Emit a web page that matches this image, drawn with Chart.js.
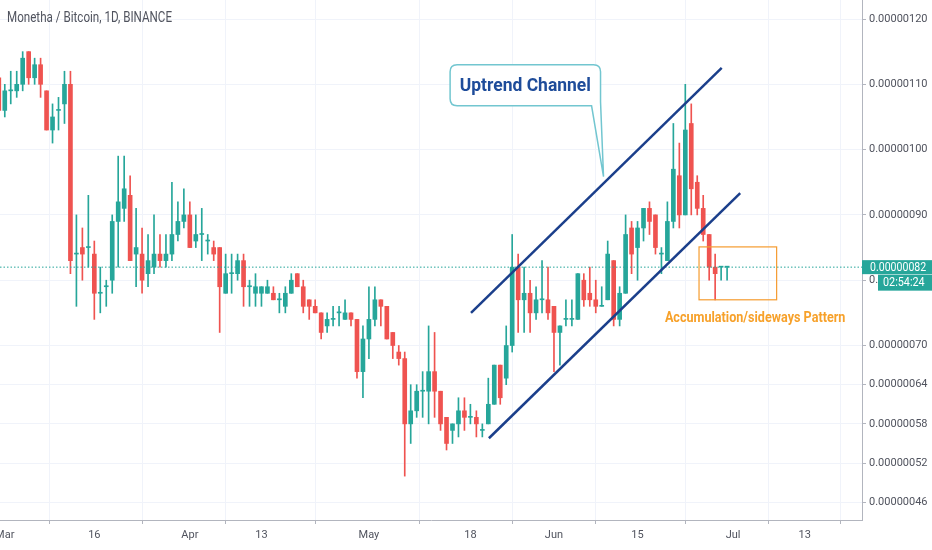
<!DOCTYPE html>
<html>
<head>
<meta charset="utf-8">
<script src="https://cdn.jsdelivr.net/npm/chart.js@4.4.1/dist/chart.umd.min.js"></script>
<style>
  html, body { margin: 0; padding: 0; background: #fff; }
  canvas { display: block; }
</style>
</head>
<body>
<canvas id="chart" width="932" height="550"></canvas>
<script>
// MCO/BTC daily candles, prices in satoshi (1e-8 BTC). Day 0 = Mar 1, first candle is Feb 29.
const firstDay = -1;
const opens = [
  111, 106, 109, 109, 110, 115, 111, 113, 109, 103, 106, 107, 110, 84, 85, 85, 84, 78, 79, 80, 89, 91,
  93, 84, 84, 81, 82, 84, 83, 84, 87, 89, 90, 86, 87, 86, 85, 85, 78, 81, 81, 83,
  79, 78, 78, 78, 78, 77, 76, 78, 81, 79, 77, 76, 75, 73, 74, 75, 74, 75, 74, 66,
  71, 74, 77, 76, 72, 69, 68, 58, 60, 63, 63, 66, 63, 59, 57, 58, 60, 59, 59, 57, 58,
  61, 67, 65, 70, 82, 77, 78, 75, 77, 77, 76, 72, 74, 74, 74, 80, 78, 77, 76, 77,
  83, 74, 78, 88, 85, 88, 91, 90, 84, 83, 89, 96, 90, 104, 95, 91, 87, 82, 82, 82
];
const highs = [
  111, 110, 112, 112, 115, 115, 114, 114, 109, 107, 108, 112, 112, 90, 88, 93, 86, 82, 80, 90, 99, 99,
  96, 91, 88, 87, 90, 87, 87, 95, 92, 94, 92, 90, 91, 87, 86, 85, 84, 84, 84, 84,
  80, 81, 79, 80, 79, 78, 79, 81, 81, 80, 77, 77, 75, 75, 76, 76, 77, 75, 74, 73,
  79, 79, 77, 76, 72, 70, 69, 64, 64, 66, 73, 72, 63, 59, 58, 62, 62, 61, 60, 58, 65,
  67, 67, 73, 87, 84, 82, 80, 79, 83, 82, 76, 73, 77, 77, 81, 81, 82, 80, 79, 86,
  83, 79, 90, 89, 89, 91, 92, 90, 85, 92, 104, 101, 110, 107, 96, 93, 87, 84, 82, 82
];
const lows = [
  106, 105, 107, 108, 109, 110, 110, 108, 103, 101, 103, 104, 81, 76, 80, 82, 74, 75, 76, 78, 82, 89,
  83, 79, 78, 79, 81, 82, 82, 83, 86, 88, 85, 85, 83, 84, 83, 72, 78, 78, 80, 76,
  76, 76, 76, 78, 77, 75, 75, 78, 79, 75, 74, 75, 71, 72, 73, 73, 74, 73, 65, 62,
  68, 73, 73, 71, 68, 67, 50, 55, 59, 59, 58, 59, 57, 54, 55, 56, 57, 58, 56, 56, 58,
  61, 61, 64, 69, 72, 72, 72, 74, 75, 74, 66, 67, 73, 73, 74, 76, 76, 75, 76, 77,
  73, 73, 78, 81, 80, 86, 87, 84, 81, 83, 88, 88, 90, 90, 90, 86, 80, 77, 80, 80
];
const closes = [
  106, 109, 109, 110, 114, 111, 113, 110, 103, 105, 106, 110, 83, 84, 84, 85, 78, 78, 79, 89, 92, 94,
  83, 85, 80, 83, 84, 83, 84, 87, 89, 90, 85, 87, 87, 86, 84, 79, 81, 81, 83, 79,
  79, 79, 79, 79, 77, 77, 78, 80, 79, 76, 76, 75, 72, 74, 74, 75, 75, 74, 66, 71,
  74, 77, 76, 71, 70, 68, 58, 60, 63, 63, 66, 63, 58, 55, 58, 60, 59, 59, 58, 57, 61,
  67, 62, 70, 82, 77, 78, 75, 77, 77, 75, 72, 73, 74, 74, 81, 77, 77, 76, 76, 84,
  74, 78, 87, 84, 88, 91, 89, 85, 84, 89, 97, 90, 103, 94, 91, 87, 82, 81, 82, 82
];

const tickDays = [0, 15, 31, 43, 61, 78, 92, 106, 122, 134];
const tickLabels = ['Mar', '16', 'Apr', '13', 'May', '18', 'Jun', '15', 'Jul', '13'];
const priceTicks = [46, 52, 58, 64, 70, 80, 90, 100, 110, 120];

// hand-drawn channel lines, [day, price]
const channelTop = [[78.1, 75.0], [120.1, 112.5]];
const channelBottom = [[81.1, 55.8], [123.2, 93.35]];

const UP = '#26a69a';
const DOWN = '#ef5350';
const FONT = 'Roboto, "Noto Sans", sans-serif';
const X_MIN = -0.8, X_MAX = 143.6;
const Y_MIN = 43.28, Y_MAX = 122.91;

const days = opens.map((_, i) => firstDay + i);
const lastClose = closes[closes.length - 1];

function candleColor(c) {
  const i = c.dataIndex;
  if (i === undefined) return UP;
  return closes[i] >= opens[i] ? UP : DOWN;
}

// text squeezed horizontally, the original uses a narrow face
function narrowText(ctx, text, x, y, font, color, align, sx) {
  ctx.save();
  ctx.translate(x, y);
  ctx.scale(sx, 1);
  ctx.font = font;
  ctx.fillStyle = color;
  ctx.textAlign = align;
  ctx.textBaseline = 'middle';
  ctx.fillText(text, 0, 0);
  ctx.restore();
}

const overlay = {
  id: 'overlay',
  afterDraw(chart) {
    const { ctx, scales: { x, y } } = chart;
    const px = (d) => x.getPixelForValue(d);
    const py = (v) => y.getPixelForValue(v);
    ctx.save();

    narrowText(ctx, 'Monetha / Bitcoin, 1D, BINANCE', 7, 18, '14px ' + FONT, '#50535e', 'left', 0.83);

    // callout "Uptrend Channel"
    const bl = px(74.6), br = px(99.8), bt = py(113.0), bb = py(106.7);
    const tipX = px(100.3), tipY = py(95.85), baseX = px(98.3);
    const r = 7;
    ctx.beginPath();
    ctx.moveTo(bl + r, bt);
    ctx.lineTo(br - r, bt);
    ctx.quadraticCurveTo(br, bt, br, bt + r);
    ctx.lineTo(br, bb - 4);
    ctx.lineTo(tipX, tipY);
    ctx.lineTo(baseX, bb);
    ctx.lineTo(bl + r, bb);
    ctx.quadraticCurveTo(bl, bb, bl, bb - r);
    ctx.lineTo(bl, bt + r);
    ctx.quadraticCurveTo(bl, bt, bl + r, bt);
    ctx.closePath();
    ctx.fillStyle = '#ffffff';
    ctx.fill();
    ctx.strokeStyle = '#72c6d0';
    ctx.lineWidth = 1.5;
    ctx.stroke();
    narrowText(ctx, 'Uptrend Channel', (bl + br) / 2, (bt + bb) / 2 + 1, 'bold 19px ' + FONT, '#1e4c9a', 'center', 0.92);

    // accumulation box
    const ol = px(116.3), or = px(129.3), ot = py(85.1), ob = py(77.0);
    ctx.strokeStyle = '#f59b2f';
    ctx.lineWidth = 1.2;
    ctx.strokeRect(ol, ot, or - ol, ob - ot);
    narrowText(ctx, 'Accumulation/sideways Pattern', px(125.7), py(74.2), 'bold 14px ' + FONT, '#f7a12a', 'center', 0.9);

    // last price label + countdown
    const ly = py(lastClose);
    const axisX = chart.chartArea.right;
    ctx.fillStyle = UP;
    ctx.fillRect(axisX, ly - 7, 932 - axisX, 14);
    ctx.fillRect(axisX + 16, ly + 7.5, 932 - axisX - 16, 16);
    narrowText(ctx, (lastClose / 1e8).toFixed(8), axisX + 8, ly + 0.5, '12px ' + FONT, '#ffffff', 'left', 0.88);
    narrowText(ctx, '02:54:24', axisX + 21, ly + 16, '12px ' + FONT, '#ffffff', 'left', 0.9);

    ctx.restore();
  }
};

new Chart(document.getElementById('chart'), {
  type: 'bar',
  data: {
    datasets: [
      {
        type: 'line',
        data: channelTop.map((p) => ({ x: p[0], y: p[1] })),
        borderColor: '#1b3f8b',
        borderWidth: 2.5,
        pointRadius: 0,
        order: 0,
      },
      {
        type: 'line',
        data: channelBottom.map((p) => ({ x: p[0], y: p[1] })),
        borderColor: '#1b3f8b',
        borderWidth: 2.5,
        pointRadius: 0,
        order: 0,
      },
      {
        type: 'line',
        data: [{ x: X_MIN, y: lastClose }, { x: X_MAX, y: lastClose }],
        borderColor: UP,
        borderWidth: 1,
        borderDash: [1.5, 2],
        pointRadius: 0,
        order: 1,
      },
      {
        label: 'wick',
        data: days.map((d, i) => ({ x: d, y: [lows[i], highs[i]] })),
        backgroundColor: candleColor,
        barThickness: 1,
        grouped: false,
        order: 3,
      },
      {
        label: 'body',
        data: days.map((d, i) => ({ x: d, y: [opens[i], closes[i]] })),
        backgroundColor: candleColor,
        barThickness: 4,
        minBarLength: 1,
        grouped: false,
        order: 2,
      },
    ],
  },
  options: {
    responsive: false,
    animation: false,
    layout: { padding: 0 },
    plugins: {
      legend: { display: false },
      tooltip: { enabled: false },
    },
    scales: {
      x: {
        type: 'linear',
        min: X_MIN,
        max: X_MAX,
        offset: false,
        grid: { color: '#f0f3fa', tickColor: '#b2b5be', tickLength: 4 },
        border: { color: '#b2b5be' },
        afterBuildTicks: (s) => { s.ticks = tickDays.map((v) => ({ value: v })); },
        afterFit: (s) => { s.height = 30; s.paddingLeft = 0; s.paddingRight = 0; },
        ticks: {
          autoSkip: false,
          maxRotation: 0,
          padding: 5,
          color: '#50535e',
          font: { family: FONT, size: 11 },
          callback: (v) => tickLabels[tickDays.indexOf(v)],
        },
      },
      y: {
        type: 'linear',
        position: 'right',
        min: Y_MIN,
        max: Y_MAX,
        grid: { color: '#f0f3fa', tickColor: '#b2b5be', tickLength: 4 },
        border: { color: '#b2b5be' },
        afterBuildTicks: (s) => { s.ticks = priceTicks.map((v) => ({ value: v })); },
        afterFit: (s) => { s.width = 70; s.paddingTop = 0; s.paddingBottom = 0; },
        ticks: {
          padding: 3,
          color: '#50535e',
          font: { family: FONT, size: 11 },
          callback: (v) => (v / 1e8).toFixed(8),
        },
      },
    },
  },
  plugins: [overlay],
});
</script>
</body>
</html>
